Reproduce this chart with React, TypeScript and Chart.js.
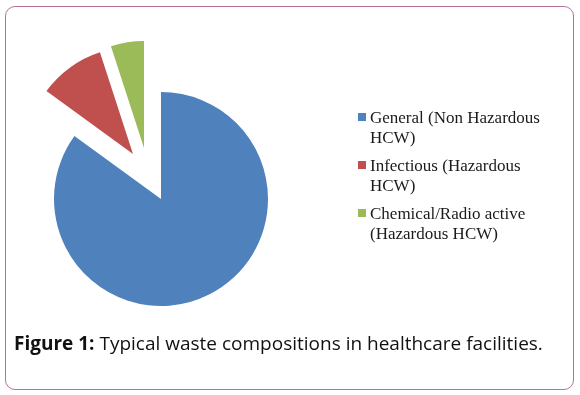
import React, { useEffect, useRef } from "react";
import { Chart, PieController, ArcElement } from "chart.js";

Chart.register(PieController, ArcElement);

// ---- data ----
const categories = [
  "General (Non Hazardous HCW)",
  "Infectious (Hazardous HCW)",
  "Chemical/Radio active (Hazardous HCW)",
];
const values = [85, 10, 5];
const colors = ["#4F81BD", "#C0504D", "#9BBB59"];
const captionBold = "Figure 1:";
const captionText = "Typical waste compositions in healthcare facilities.";

// ---- style ----
const EXPLODE: [number, number][] = [
  [0, 0],
  [-28, -45],
  [-17, -51],
];
const LEGEND_FONT = '17px "Liberation Serif"';
const LEGEND_X = 358;
const LEGEND_Y = 123;
const LEGEND_MAX_W = 182;

function wrap(ctx: CanvasRenderingContext2D, text: string, maxW: number) {
  const words = text.split(" ");
  const lines: string[] = [];
  let cur = "";
  for (const w of words) {
    const t = cur ? cur + " " + w : w;
    if (cur && ctx.measureText(t).width > maxW) {
      lines.push(cur);
      cur = w;
    } else cur = t;
  }
  if (cur) lines.push(cur);
  return lines;
}

const explodePlugin = {
  id: "explode",
  afterDatasetUpdate(chart: any, args: any) {
    const meta = chart.getDatasetMeta(args.index);
    meta.data.forEach((arc: any, i: number) => {
      const [dx, dy] = EXPLODE[i] || [0, 0];
      arc.x += dx;
      arc.y += dy;
    });
  },
};

const legendPlugin = {
  id: "customLegend",
  afterDraw(chart: any) {
    const ctx: CanvasRenderingContext2D = chart.ctx;
    ctx.save();
    ctx.font = LEGEND_FONT;
    ctx.textBaseline = "alphabetic";
    let y = LEGEND_Y;
    const labels = chart.data.labels as string[];
    const bg = chart.data.datasets[0].backgroundColor as string[];
    labels.forEach((lab, i) => {
      ctx.fillStyle = bg[i];
      ctx.fillRect(LEGEND_X, y - 10, 8, 8);
      ctx.fillStyle = "#1a1a1a";
      const lines = wrap(ctx, lab, LEGEND_MAX_W);
      lines.forEach((ln, j) => {
        ctx.fillText(ln, LEGEND_X + 12, y + j * 20);
      });
      y += lines.length * 20 + 8;
    });
    // caption
    ctx.fillStyle = "#111";
    ctx.font = 'bold 19px "Open Sans"';
    ctx.fillText(captionBold, 14, 350);
    const bw = ctx.measureText(captionBold + " ").width;
    ctx.font = '19px "Open Sans"';
    ctx.fillText(captionText, 14 + bw, 350);
    ctx.restore();
  },
};

export default function App() {
  const ref = useRef<HTMLCanvasElement>(null);
  useEffect(() => {
    if (!ref.current) return;
    const chart = new Chart(ref.current, {
      type: "pie",
      data: {
        labels: categories,
        datasets: [
          {
            data: values,
            backgroundColor: colors,
            borderWidth: 0,
          },
        ],
      },
      options: {
        responsive: false,
        animation: false,
        radius: 107,
        layout: { padding: { left: 0, top: 3, right: 258, bottom: 0 } },
        plugins: { legend: { display: false }, tooltip: { enabled: false } },
        events: [],
      } as any,
      plugins: [explodePlugin, legendPlugin],
    });
    return () => chart.destroy();
  }, []);
  return (
    <div style={{ position: "fixed", left: 0, top: 0, width: 580, height: 395, background: "#fff" }}>
      <div
        style={{
          position: "absolute",
          left: 5,
          top: 6,
          width: 569,
          height: 384,
          boxSizing: "border-box",
          border: "1.5px solid #b9709c",
          borderRadius: 10,
        }}
      />
      <canvas ref={ref} width={580} height={395} style={{ position: "absolute", left: 0, top: 0 }} />
    </div>
  );
}
